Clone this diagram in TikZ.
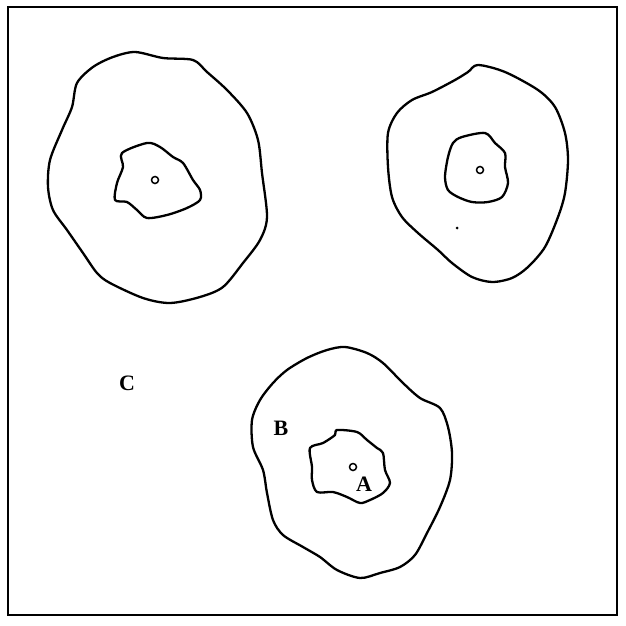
\documentclass[tikz,border=0pt]{standalone}
\usepackage{fontspec}
\setmainfont{Liberation Serif}
\begin{document}
\begin{tikzpicture}[x=1pt,y=-1pt,
  contour/.style={line width=2.3pt,black,line join=round},
  centre/.style={circle,draw,line width=1.5pt,inner sep=0pt,minimum size=7pt},
  lbl/.style={font=\fontsize{22}{22}\selectfont\bfseries,inner sep=0pt}]
\useasboundingbox (0,0) rectangle (625,626);
\draw[line width=2.5pt] (8,7) rectangle (617,615);
% blob 1
\draw[contour] plot[smooth cycle,tension=0.5] coordinates {
 (135,52) (163,58) (193,60) (207,72) (227,90) (247,113) (258,140) (262,173)
 (267,217) (260,240) (243,263) (223,287) (200,297) (170,303) (143,298)
 (110,283) (97,273) (83,253) (67,230) (53,210) (48,187) (50,160) (62,130)
 (72,107) (77,83) (93,67) (113,57)};
\draw[contour] plot[smooth cycle,tension=0.5] coordinates {
 (122,153) (147,143) (160,147) (173,157) (183,163) (193,180) (200,190)
 (200,200) (187,208) (167,215) (147,218) (137,210) (127,202) (115,200)
 (117,183) (123,167)};
\node[centre] (c1) at (155,180) {};
% blob 2
\draw[contour] plot[smooth cycle,tension=0.5] coordinates {
 (478,65) (505,72) (538,90) (555,107) (565,133) (568,160) (565,193)
 (558,217) (545,247) (528,267) (512,278) (492,282) (472,277) (452,263)
 (438,250) (418,233) (402,217) (392,197) (388,167) (388,133) (397,113)
 (412,100) (432,92) (455,80) (468,72)};
\draw[contour] plot[smooth cycle,tension=0.5] coordinates {
 (462,137) (485,133) (495,143) (505,153) (505,167) (508,183) (502,197)
 (488,202) (472,202) (458,197) (448,190) (445,177) (448,157) (453,143)};
\node[centre] (c2) at (480,170) {};
\fill (457,228) circle (1.5pt);
% blob 3
\draw[contour] plot[smooth cycle,tension=0.5] coordinates {
 (345,347) (367,353) (383,363) (403,383) (420,398) (440,408) (448,427)
 (452,453) (450,480) (440,507) (427,533) (415,555) (400,567) (380,573)
 (360,578) (337,570) (320,557) (303,547) (283,535) (273,520) (267,493)
 (263,470) (253,447) (252,420) (260,400) (273,383) (287,370) (307,358)
 (327,350)};
\draw[contour] plot[smooth cycle,tension=0.5] coordinates {
 (337,430) (357,432) (367,440) (377,448) (383,453) (385,470) (390,483)
 (383,493) (370,500) (360,503) (347,497) (333,492) (317,492) (312,480)
 (312,467) (310,448) (323,443) (335,435)};
\node[centre] (c3) at (353,467) {};
\node[lbl] (C) at (127,383) {C};
\node[lbl] (B) at (281,428) {B};
\node[lbl] (A) at (364,484) {A};
\end{tikzpicture}
\end{document}
